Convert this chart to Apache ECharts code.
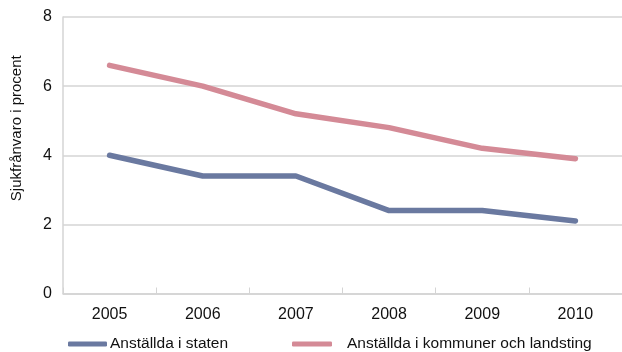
<!DOCTYPE html>
<html>
<head>
<meta charset="utf-8">
<script src="https://cdn.jsdelivr.net/npm/echarts@6/dist/echarts.min.js"></script>
<style>
  html, body { margin: 0; padding: 0; background: #fff; }
  #chart { width: 622px; height: 352px; }
</style>
</head>
<body>
<div id="chart"></div>
<script>
const years = ['2005', '2006', '2007', '2008', '2009', '2010']
const staten = [4.0, 3.4, 3.4, 2.4, 2.4, 2.1]
const kommuner = [6.6, 6.0, 5.2, 4.8, 4.2, 3.9]
const yTicks = { min: 0, max: 8, interval: 2 }

const AXIS_FONT = '"Liberation Sans", Arial, sans-serif'
const GRIDCOLOR = '#d4d4d4'
const BLUE = '#6a79a0'
const PINK = '#d48a96'

const chart = echarts.init(document.getElementById('chart'), null, { renderer: 'canvas' })

const legendText = {
  fontFamily: AXIS_FONT,
  fontSize: 15.5,
  color: '#111'
}

chart.setOption({
  backgroundColor: '#fff',
  animation: false,
  grid: { left: 63, top: 17, width: 564, height: 276.5, containLabel: false },
  legend: [
    {
      data: ['Anställda i staten'],
      left: 63, top: 331,
      icon: 'roundRect', itemWidth: 39, itemHeight: 5,
      textStyle: { ...legendText, padding: [0, 0, 0, -2] }
    },
    {
      data: ['Anställda i kommuner och landsting'],
      left: 287, top: 331,
      icon: 'roundRect', itemWidth: 40, itemHeight: 5,
      textStyle: { ...legendText, padding: [0, 0, 0, 10] }
    }
  ],
  xAxis: {
    type: 'category',
    data: years,
    boundaryGap: true,
    axisLine: { show: true, lineStyle: { color: GRIDCOLOR, width: 1.5 } },
    axisTick: { show: true, inside: true, length: 6, lineStyle: { color: GRIDCOLOR } },
    axisLabel: { fontFamily: AXIS_FONT, fontSize: 16, color: '#111', margin: 13 },
    splitLine: { show: false }
  },
  yAxis: {
    type: 'value',
    min: yTicks.min, max: yTicks.max, interval: yTicks.interval,
    name: 'Sjukfrånvaro i procent',
    nameLocation: 'middle',
    nameGap: 39,
    nameTextStyle: { fontFamily: AXIS_FONT, fontSize: 15, color: '#111', padding: [0, 0, 0, 54] },
    axisLine: { show: true, lineStyle: { color: GRIDCOLOR, width: 1.5 } },
    axisTick: { show: false },
    axisLabel: { fontFamily: AXIS_FONT, fontSize: 16, color: '#111', margin: 11 },
    splitLine: { show: true, lineStyle: { color: GRIDCOLOR, width: 1.5 } }
  },
  series: [
    {
      name: 'Anställda i staten',
      type: 'line',
      data: staten,
      symbol: 'none',
      color: BLUE,
      lineStyle: { color: BLUE, width: 5.5, cap: 'round', join: 'round' }
    },
    {
      name: 'Anställda i kommuner och landsting',
      type: 'line',
      data: kommuner,
      symbol: 'none',
      color: PINK,
      lineStyle: { color: PINK, width: 5.5, cap: 'round', join: 'round' }
    }
  ]
})
</script>
</body>
</html>
